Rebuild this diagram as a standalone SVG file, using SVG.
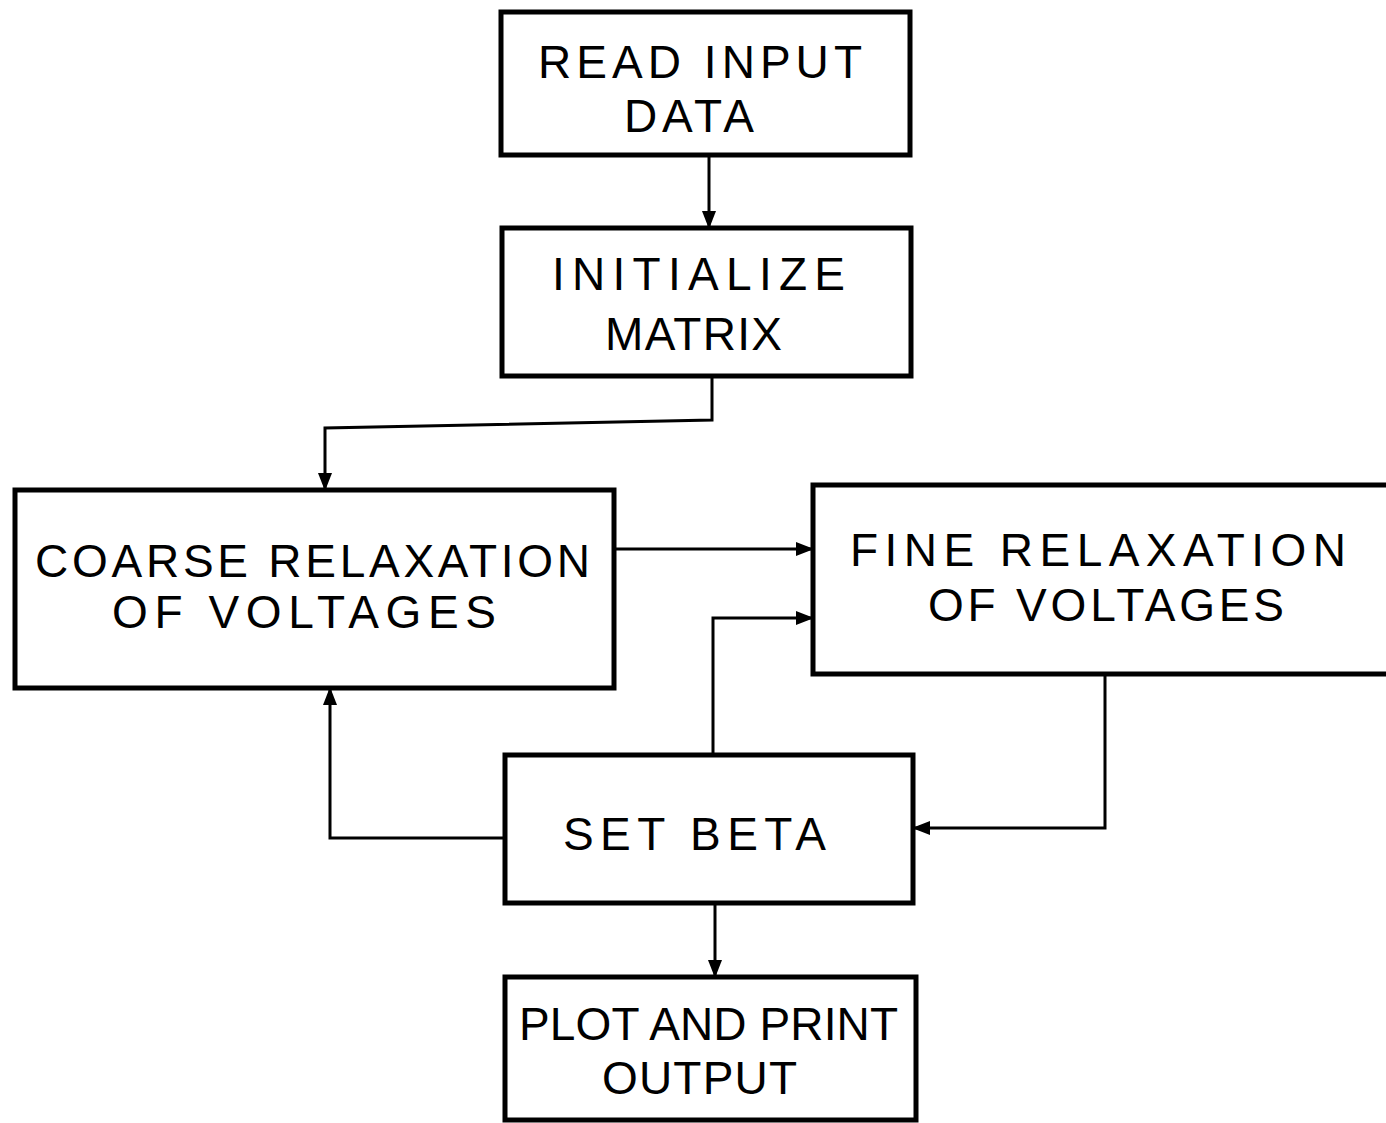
<svg xmlns="http://www.w3.org/2000/svg" width="1386" height="1123" viewBox="0 0 1386 1123">
  <defs>
    <marker id="arrow" viewBox="0 0 18 14" refX="17" refY="7" markerWidth="18" markerHeight="14" markerUnits="userSpaceOnUse" orient="auto">
      <path d="M0,0 L18,7 L0,14 Z" fill="#000"/>
    </marker>
  </defs>
  <style>
    .box { fill: #fff; stroke: #000; stroke-width: 5; }
    .lbl { font-family: "Liberation Sans", Arial, sans-serif; font-size: 46px; fill: #000; }
    .wire { fill: none; stroke: #000; stroke-width: 3; marker-end: url(#arrow); }
  </style>
  <rect width="1386" height="1123" fill="#fff"/>

  <g id="connectors">
    <path class="wire" d="M709,155 L709,228"/>
    <path class="wire" d="M712,376 L712,420 L325,428 L325,490"/>
    <path class="wire" d="M614,549 L813,549"/>
    <path class="wire" d="M713,755 L713,618 L813,618"/>
    <path class="wire" d="M1105,674 L1105,828 L913,828"/>
    <path class="wire" d="M505,838 L330,838 L330,688"/>
    <path class="wire" d="M715,903 L715,977"/>
  </g>

  <g id="read-input">
    <rect class="box" x="501" y="12" width="409" height="143"/>
    <text class="lbl" x="538" y="78" textLength="324" lengthAdjust="spacing">READ  INPUT</text>
    <text class="lbl" x="624" y="132" textLength="130" lengthAdjust="spacing">DATA</text>
  </g>

  <g id="initialize">
    <rect class="box" x="502" y="228" width="409" height="148"/>
    <text class="lbl" x="552" y="290" textLength="293" lengthAdjust="spacing">INITIALIZE</text>
    <text class="lbl" x="605" y="350" textLength="177" lengthAdjust="spacing">MATRIX</text>
  </g>

  <g id="coarse">
    <rect class="box" x="15" y="490" width="599" height="198"/>
    <text class="lbl" x="35" y="577" textLength="555" lengthAdjust="spacing">COARSE  RELAXATION</text>
    <text class="lbl" x="112" y="628" textLength="384" lengthAdjust="spacing">OF  VOLTAGES</text>
  </g>

  <g id="fine">
    <rect class="box" x="813" y="485" width="590" height="189"/>
    <text class="lbl" x="850" y="566" textLength="496" lengthAdjust="spacing">FINE  RELAXATION</text>
    <text class="lbl" x="928" y="621" textLength="356" lengthAdjust="spacing">OF  VOLTAGES</text>
  </g>

  <g id="set-beta">
    <rect class="box" x="505" y="755" width="408" height="148"/>
    <text class="lbl" x="563" y="850" textLength="263" lengthAdjust="spacing">SET  BETA</text>
  </g>

  <g id="plot-output">
    <rect class="box" x="505" y="977" width="411" height="143"/>
    <text class="lbl" x="519" y="1040" textLength="379" lengthAdjust="spacing">PLOT AND PRINT</text>
    <text class="lbl" x="602" y="1094" textLength="195" lengthAdjust="spacing">OUTPUT</text>
  </g>
</svg>
